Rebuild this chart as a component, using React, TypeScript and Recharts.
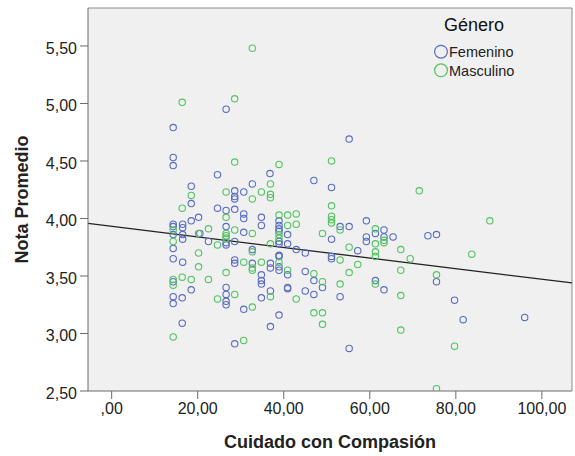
import React from "react";
import {
  ScatterChart,
  Scatter,
  XAxis,
  YAxis,
  CartesianGrid,
  ReferenceLine,
} from "recharts";

// [Cuidado con Compasión, Nota Promedio]
const femenino: [number, number][] = [
  [14.3, 4.79], [26.6, 4.95], [55.2, 4.69],
  [14.3, 4.53], [14.3, 4.46], [18.5, 4.28], [18.5, 4.13], [20.2, 4.01], [18.5, 3.98],
  [14.3, 3.95], [14.3, 3.93], [16.5, 3.95], [16.5, 3.92], [16.5, 3.86], [16.5, 3.82],
  [14.3, 3.86], [14.3, 3.74], [14.3, 3.65], [16.5, 3.62],
  [14.3, 3.45], [18.5, 3.38], [14.3, 3.32], [14.3, 3.26], [16.4, 3.31], [16.4, 3.09],
  [24.6, 4.38], [36.8, 4.39], [32.7, 4.3], [28.6, 4.24], [30.7, 4.23], [28.6, 4.19],
  [28.6, 4.17], [24.6, 4.09], [26.6, 4.07], [28.6, 4.08], [30.7, 4.04], [30.7, 4.0],
  [34.8, 4.01], [38.9, 3.98], [38.9, 3.94], [38.9, 3.91], [38.9, 3.89], [34.8, 3.94],
  [26.6, 3.93], [20.5, 3.87], [26.6, 3.79], [26.6, 3.77], [30.7, 3.88], [40.9, 3.86],
  [38.9, 3.8], [38.9, 3.78], [40.9, 3.78], [42.9, 3.73], [22.5, 3.8], [28.6, 3.8],
  [32.7, 3.73], [38.9, 3.68], [38.9, 3.67], [28.6, 3.64], [28.6, 3.61], [32.7, 3.61],
  [36.9, 3.61], [38.9, 3.58],
  [36.9, 3.57], [38.9, 3.55], [40.9, 3.51], [34.8, 3.51], [34.8, 3.46], [34.8, 3.43],
  [26.6, 3.4], [26.6, 3.34], [26.6, 3.28], [26.6, 3.25], [40.9, 3.4], [40.9, 3.39],
  [36.9, 3.37], [34.8, 3.31], [30.7, 3.21], [38.9, 3.16], [36.9, 3.06], [28.6, 2.91],
  [47.0, 4.33], [51.1, 4.27], [53.1, 3.93], [55.2, 3.93], [59.2, 3.98], [61.3, 3.87],
  [63.3, 3.9], [59.2, 3.84], [59.2, 3.8], [63.3, 3.84], [65.4, 3.84], [51.1, 3.82],
  [57.2, 3.72], [45.0, 3.7], [51.1, 3.67], [51.1, 3.65],
  [45.0, 3.54], [47.0, 3.46], [49.0, 3.4], [45.0, 3.37], [47.0, 3.34], [53.1, 3.32],
  [61.3, 3.46], [63.3, 3.38], [55.2, 2.87],
  [75.5, 3.45], [79.7, 3.29], [81.7, 3.12], [96.0, 3.14], [73.5, 3.85], [75.5, 3.86],
];

const masculino: [number, number][] = [
  [16.4, 5.01], [32.7, 5.48], [28.6, 5.04],
  [18.5, 4.2], [16.4, 4.09], [14.3, 3.9], [20.2, 3.87], [14.3, 3.8], [20.2, 3.7], [20.2, 3.58],
  [14.3, 3.47], [14.3, 3.42], [16.4, 3.49], [18.5, 3.47], [14.3, 2.97],
  [28.6, 4.49], [38.9, 4.47], [36.9, 4.3], [26.6, 4.23], [34.8, 4.23], [36.9, 4.21],
  [36.9, 4.18], [32.7, 4.17], [26.6, 4.01], [38.9, 4.03], [40.9, 4.03], [42.9, 4.04],
  [40.9, 3.94], [42.9, 3.95], [22.5, 3.91], [26.6, 3.87], [26.6, 3.85], [26.6, 3.83],
  [28.6, 3.9], [32.7, 3.87], [38.9, 3.86], [38.9, 3.83], [36.9, 3.78], [24.6, 3.77],
  [32.7, 3.71], [38.9, 3.62], [30.7, 3.62], [34.8, 3.62],
  [32.7, 3.57], [32.7, 3.55], [40.9, 3.55], [26.6, 3.53], [22.5, 3.47], [24.6, 3.3],
  [28.6, 3.34], [36.9, 3.32], [42.9, 3.3], [32.7, 3.23], [30.7, 2.94],
  [51.1, 4.5], [51.1, 4.11], [51.1, 4.02], [51.1, 3.99], [51.1, 3.96], [53.1, 3.9],
  [49.0, 3.87], [61.3, 3.91], [63.3, 3.81], [63.3, 3.79], [61.3, 3.78], [55.2, 3.75],
  [61.3, 3.71], [61.3, 3.67], [53.1, 3.64], [57.2, 3.6], [67.2, 3.73],
  [47.0, 3.52], [49.0, 3.45], [53.1, 3.43], [55.2, 3.53], [61.3, 3.43], [47.0, 3.18],
  [49.0, 3.18], [49.0, 3.08], [67.2, 3.55], [67.2, 3.33], [67.2, 3.03],
  [75.5, 3.51], [79.7, 2.89], [75.5, 2.52],
  [71.5, 4.24], [87.9, 3.98], [69.4, 3.65], [83.7, 3.69],
];

const xTicks = [0, 20, 40, 60, 80, 100];
const yTicks = [2.5, 3.0, 3.5, 4.0, 4.5, 5.0, 5.5];
const xDomain: [number, number] = [-5.5, 107];
const yDomain: [number, number] = [2.5, 5.83];

// total fit line
const intercept = 3.932;
const slope = -0.0046;

const FEM = "#5a6cc4";
const MASC = "#52c460";
const font = "'Liberation Sans', Arial, sans-serif";

const fmt = (v: number) => {
  const s = v.toFixed(2).replace(".", ",");
  return s.startsWith("0,") ? s.slice(1) : s;
};

const femData = femenino.map(([x, y]) => ({ x, y }));
const mascData = masculino.map(([x, y]) => ({ x, y }));

const ring = (color: string) => (props: any) => (
  <circle cx={props.cx} cy={props.cy} r={3.2} fill="none" stroke={color} strokeWidth={1.1} />
);

// legend drawn on top of the plot, like the SPSS one
const LegendBox = () => (
  <svg
    width={140}
    height={80}
    style={{ position: "absolute", left: 420, top: 8, fontFamily: font }}
  >
    <text x={54} y={23} textAnchor="middle" fontSize={18} fill="#111">
      Género
    </text>
    {[
      ["Femenino", FEM],
      ["Masculino", MASC],
    ].map(([name, c], i) => (
      <g key={name}>
        <circle cx={21} cy={43.7 + i * 18.6} r={6.4} fill="none" stroke={c} strokeWidth={1.2} />
        <text x={29} y={49 + i * 18.6} fontSize={14.5} fill="#222">
          {name}
        </text>
      </g>
    ))}
  </svg>
);

export default function App() {
  return (
    <div style={{ position: "absolute", left: 0, top: 0, background: "#fff" }}>
      <ScatterChart
        width={575}
        height={456}
        margin={{ top: 8, right: 3, bottom: 0, left: 0 }}
        style={{ fontFamily: font }}
      >
        <CartesianGrid horizontal={false} vertical={false} fill="#f0f0f0" />
        <XAxis
          type="number"
          dataKey="x"
          domain={xDomain}
          ticks={xTicks}
          tickFormatter={fmt}
          allowDataOverflow
          height={65}
          stroke="#6a6a6a"
          tickSize={8}
          tickMargin={4}
          tick={{ fill: "#222", fontSize: 16 }}
          label={{
            value: "Cuidado con Compasión",
            position: "center",
            dy: 18,
            style: { fontWeight: "bold", fontSize: 18, fill: "#222" },
          }}
        />
        <YAxis
          type="number"
          dataKey="y"
          domain={yDomain}
          ticks={yTicks}
          tickFormatter={fmt}
          allowDataOverflow
          width={88}
          stroke="#6a6a6a"
          tickSize={8}
          tickMargin={3}
          tick={{ fill: "#222", fontSize: 16, dy: 2 }}
          label={{
            value: "Nota Promedio",
            angle: -90,
            position: "center",
            dx: -22,
            style: { fontWeight: "bold", fontSize: 18, fill: "#222" },
          }}
        />
        <ReferenceLine y={yDomain[1]} stroke="#8a8a8a" />
        <ReferenceLine x={xDomain[1]} stroke="#8a8a8a" />
        <Scatter
          name="Femenino"
          data={femData}
          shape={ring(FEM)}
          isAnimationActive={false}
        />
        <Scatter
          name="Masculino"
          data={mascData}
          shape={ring(MASC)}
          isAnimationActive={false}
        />
        <ReferenceLine
          segment={[
            { x: xDomain[0], y: intercept + slope * xDomain[0] },
            { x: xDomain[1], y: intercept + slope * xDomain[1] },
          ]}
          stroke="#222"
          strokeWidth={1.3}
          ifOverflow="visible"
        />
      </ScatterChart>
      <LegendBox />
    </div>
  );
}
